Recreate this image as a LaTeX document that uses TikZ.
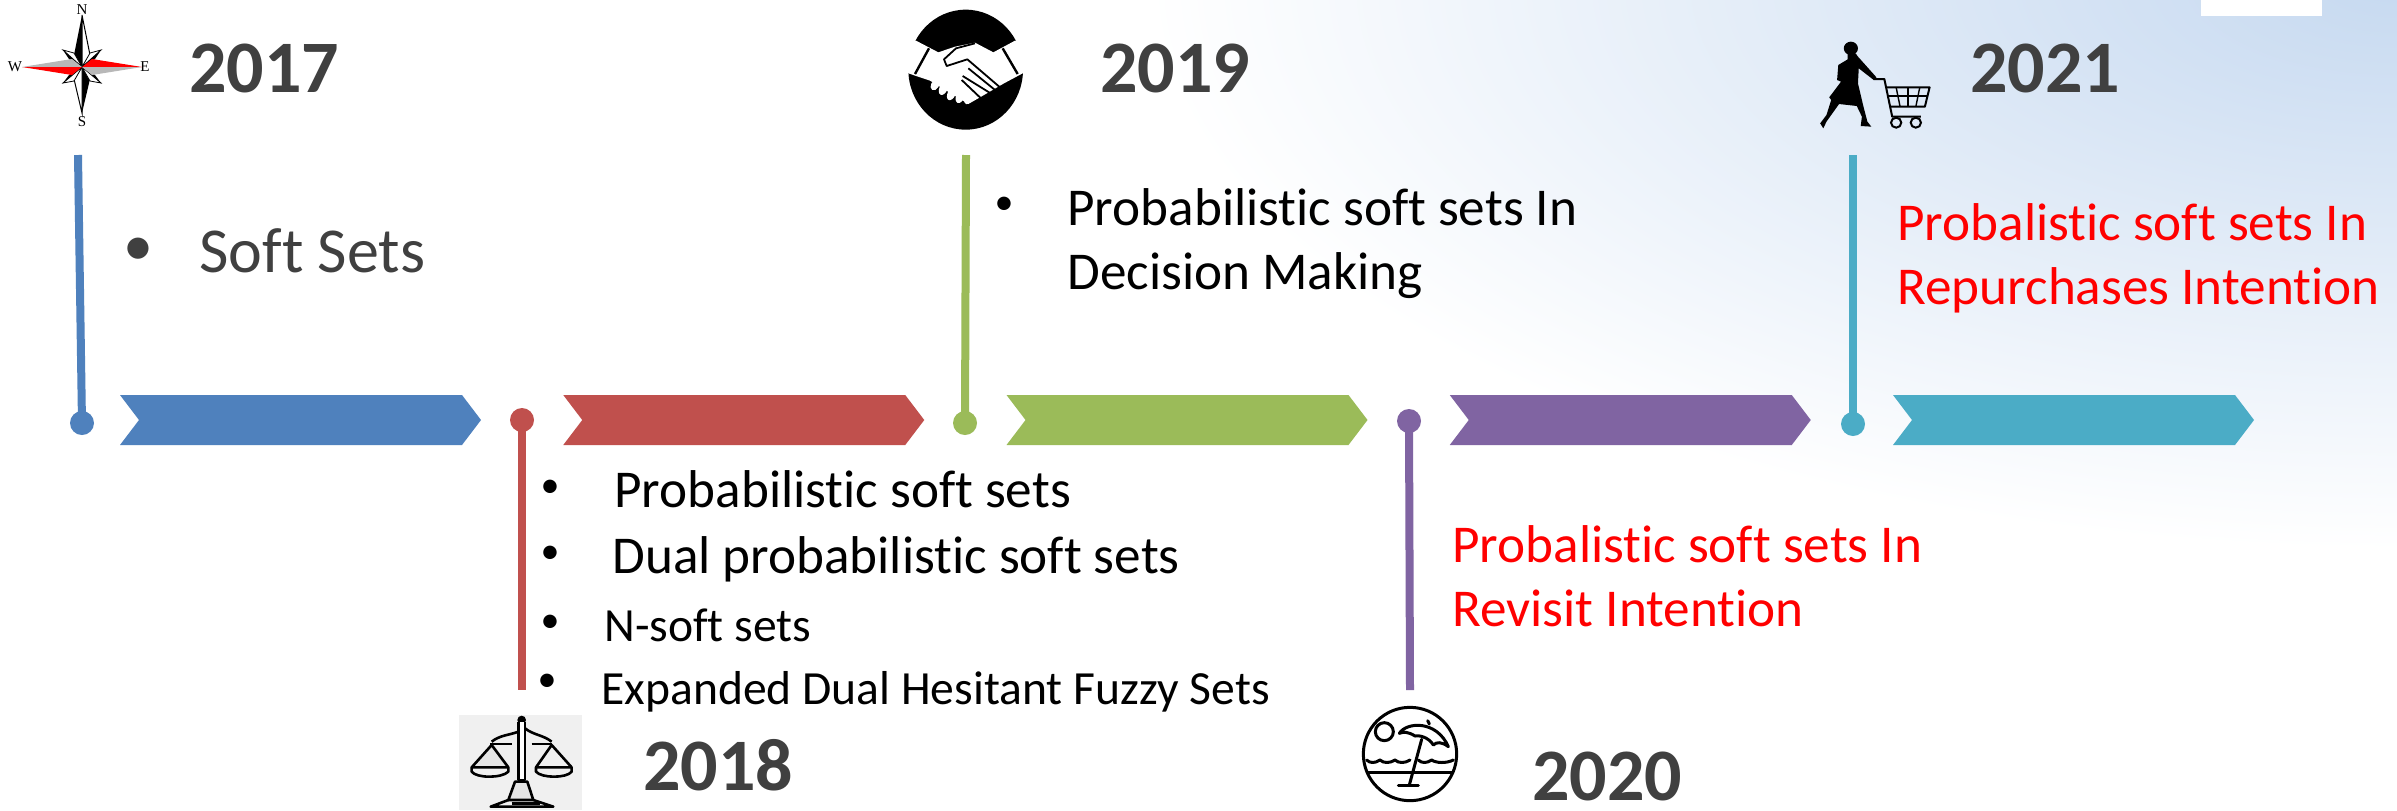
\documentclass[tikz,border=0pt]{standalone}
\usepackage{fontspec}
\setmainfont[Ligatures=NoCommon]{Carlito}
\newfontfamily\compassfont{Liberation Serif}
\usetikzlibrary{calc}

\definecolor{stepblue}{HTML}{4F81BD}
\definecolor{stepred}{HTML}{C0504D}
\definecolor{stepgreen}{HTML}{9BBB59}
\definecolor{steppurple}{HTML}{8064A2}
\definecolor{stepteal}{HTML}{4BACC6}
\definecolor{yeargray}{HTML}{404040}
\definecolor{skyblue}{HTML}{C6D9F0}

\pgfdeclareradialshading{skyglow}{\pgfpoint{0bp}{0bp}}{color(0bp)=(skyblue); color(25bp)=(white); color(50bp)=(white)}

\tikzset{
	year/.style={anchor=base west, text=yeargray, font=\fontsize{37}{37}\selectfont\bfseries, inner sep=0pt},
	big/.style={anchor=base west, inner sep=0pt, font=\fontsize{26.6}{26.6}\selectfont},
	small/.style={anchor=base west, inner sep=0pt, font=\fontsize{23.8}{23.8}\selectfont},
	redtext/.style={big, text=red},
	bul/.style={inner sep=0pt, font=\fontsize{19}{19}\selectfont},
	dot/.style={circle, minimum size=12pt, inner sep=0pt},
	stem/.style={line width=4pt},
	letter/.style={inner sep=0pt, font=\fontsize{7.5}{7.5}\selectfont\compassfont}
}

\begin{document}
\begin{tikzpicture}[x=0.5pt,y=-0.5pt]
			\useasboundingbox (0,0) rectangle (2397,810);

			\begin{scope}
				\clip (0,0) rectangle (2397,810);
				\fill[white] (0,0) rectangle (2397,810);
				\shade[shading=skyglow] (2397,-20) ellipse (1250 and 570);
				\fill[white] (2201,0) rectangle (2322,16);
			\end{scope}

			% arrows of the time line
			\foreach \x/\col in {120/stepblue,563.25/stepred,1006.5/stepgreen,1449.75/steppurple,1893/stepteal}
			{
				\fill[\col] (\x,395) -- ++(342,0) -- ++(19,25) -- ++(-19,25) -- ++(-342,0) -- ++(19,-25) -- cycle;
			}

			\coordinate (top a) at (78,155);
			\coordinate (bottom b) at (522,690);
			\coordinate (top c) at (966,155);
			\coordinate (bottom d) at (1410,690);
			\coordinate (top e) at (1853,155);

			\node[dot, fill=stepblue] (dot a) at (82,423) {};
			\node[dot, fill=stepred] (dot b) at (522,420) {};
			\node[dot, fill=stepgreen] (dot c) at (965,423) {};
			\node[dot, fill=steppurple] (dot d) at (1409,421) {};
			\node[dot, fill=stepteal] (dot e) at (1853,424) {};

			\draw[stem, stepblue] (top a) -- (dot a.center);
			\draw[stem, stepred] (dot b.center) -- (bottom b);
			\draw[stem, stepgreen] (top c) -- (dot c.center);
			\draw[stem, steppurple] (dot d.center) -- (bottom d);
			\draw[stem, stepteal] (top e) -- (dot e.center);

			\node[year] (year a) at (189,92) {2017};
			\node[year] (year b) at (643,790) {2018};
			\node[year] (year c) at (1100,92) {2019};
			\node[year] (year d) at (1532,800) {2020};
			\node[year] (year e) at (1970,92) {2021};

			\node[bul, text=yeargray, font=\fontsize{30}{30}\selectfont] (bul a) at (138,252) {\textbullet};
			\node[big, text=yeargray, font=\fontsize{32}{32}\selectfont] (soft) at (199,272) {Soft Sets};

			\node[bul] (bul c) at (1004,206) {\textbullet};
			\node[big] (line c one) at (1067,225) {Probabilistic soft sets In};
			\node[big] (line c two) at (1067,289) {Decision Making};

			\node[bul] (bul b one) at (550,489) {\textbullet};
			\node[bul] (bul b two) at (550,555) {\textbullet};
			\node[bul] (bul b three) at (550,624) {\textbullet};
			\node[bul] (bul b four) at (547,683) {\textbullet};
			\node[big] (line b one) at (614,507) {Probabilistic soft sets};
			\node[big] (line b two) at (612,573) {Dual probabilistic soft sets};
			\node[small] (line b three) at (604,641) {N-soft sets};
			\node[small] (line b four) at (601,704) {Expanded Dual Hesitant Fuzzy Sets};

			\node[redtext] (line d one) at (1452,562) {Probalistic soft sets In};
			\node[redtext] (line d two) at (1452,626) {Revisit Intention};
			\node[redtext] (line e one) at (1897,240) {Probalistic soft sets In};
			\node[redtext] (line e two) at (1897,304) {Repurchases Intention};

			% compass
			\begin{scope}
				\fill[black] (82,15) -- (74,55) -- (82,67) -- cycle;
				\draw[line width=0.5pt, fill=white] (82,15) -- (90,55) -- (82,67) -- cycle;
				\fill[black] (82,113) -- (90,79) -- (82,67) -- cycle;
				\draw[line width=0.5pt, fill=white] (82,113) -- (74,79) -- (82,67) -- cycle;
				\foreach \tx/\ty/\ax/\ay/\bx/\by in {63/50/74/53/69/59,101/50/90/53/95/59,63/83/74/81/69/75,101/83/90/81/95/75}
				{
					\draw[line width=0.4pt, fill=white] (\tx,\ty) -- (\ax,\ay) -- (82,67) -- cycle;
					\fill[black] (\tx,\ty) -- (\bx,\by) -- (82,67) -- cycle;
				}
				\fill[black!28] (22,67) -- (72,59) -- (82,67) -- cycle;
				\fill[red] (22,67) -- (72,75) -- (82,67) -- cycle;
				\fill[red] (142,67) -- (92,59) -- (82,67) -- cycle;
				\fill[black!28] (142,67) -- (92,75) -- (82,67) -- cycle;
				\node[letter] (north) at (82,10) {N};
				\node[letter] (south) at (82,122) {S};
				\node[letter] (west) at (15,67) {W};
				\node[letter] (east) at (145,67) {E};
			\end{scope}

			% handshake
			\begin{scope}[shift={(880,0)},scale=1/3]
				\fill[black] (257,209) ellipse (172 and 180);
				\fill[white] (75,122) -- (108,122) -- (175,157) -- (225,140) -- (285,128) -- (340,157) -- (405,122) -- (440,122) -- (440,220) -- (428,220) -- (372,250) -- (300,292) -- (265,312) -- (150,242) -- (85,220) -- (75,220) -- cycle;
				\draw[line width=1.2pt] (147,145) -- (105,222);
				\draw[line width=1.2pt] (368,145) -- (413,222);
				\fill[white, rotate around={-30:(165,255)}] (165,255) ellipse (12 and 17);
				\fill[white, rotate around={-25:(190,266)}] (190,266) ellipse (12 and 20);
				\fill[white, rotate around={-25:(215,280)}] (215,280) ellipse (12 and 22);
				\fill[white, rotate around={-20:(240,290)}] (240,290) ellipse (12 and 20);
				\fill[white, rotate around={-20:(262,302)}] (262,302) ellipse (9 and 11);
				\draw[line width=0.9pt, line join=round] (285,130) -- (228,145) -- (192,178) -- (200,198) -- (262,178) -- (360,262) -- (350,274) -- (265,205);
				\draw[line width=0.9pt] (340,285) -- (248,228);
				\draw[line width=0.9pt] (305,297) -- (245,240);
			\end{scope}

			% shopper with cart
			\begin{scope}[shift={(1780,0)},xscale=1/2.54,yscale=1/3]
				\fill[black] (180,145) ellipse (18 and 20);
				\fill[black] (172,160) -- (192,160) -- (198,170) -- (245,232) -- (238,240) -- (200,205) -- (198,250) -- (212,320) -- (222,365) -- (232,380) -- (205,378) -- (208,350) -- (195,318) -- (150,312) -- (118,365) -- (110,385) -- (102,370) -- (118,345) -- (130,300) -- (125,292) -- (155,245) -- (145,240) -- (148,195) -- (172,178) -- cycle;
				\draw[line width=1pt, line join=round] (238,237) -- (265,237) -- (285,350) -- (358,350);
				\draw[line width=1pt, line join=round] (270,262) -- (380,262) -- (368,320) -- (280,320);
				\draw[line width=0.7pt] (275,288) -- (375,288);
				\draw[line width=0.7pt] (295,262) -- (305,320);
				\draw[line width=0.7pt] (325,262) -- (325,320);
				\draw[line width=0.7pt] (355,262) -- (345,320);
				\draw[line width=1pt] (295,368) ellipse (13 and 15);
				\draw[line width=1pt] (345,368) ellipse (13 and 15);
			\end{scope}

			% scales
			\begin{scope}[shift={(440,680)},scale=1/3]
				\fill[black!6] (58,105) rectangle (425,390);
				\fill[black] (245,120) circle (13);
				\begin{scope}[line width=1.3pt, line join=round]
					\draw[fill=white] (235,125) -- (235,300) -- (255,300) -- (255,125);
					\draw (155,185) .. controls (180,165) and (210,165) .. (235,155);
					\draw (335,185) .. controls (310,165) and (280,165) .. (255,145);
					\draw (150,192) -- (215,192);
					\draw (275,192) -- (335,192);
					\draw[fill=black!10] (155,195) -- (95,262) -- (205,262) -- cycle;
					\draw (335,195) -- (288,262) -- (395,262) -- cycle;
					\draw (95,262) -- (95,275) .. controls (110,295) and (185,295) .. (205,275) -- (205,262);
					\draw (288,262) -- (288,275) .. controls (305,295) and (380,295) .. (395,275) -- (395,262);
					\draw[fill=black!10] (225,305) -- (262,305) -- (280,360) -- (205,360) -- cycle;
					\draw (205,360) -- (152,380) -- (340,380) -- (280,360);
					\draw (215,370) -- (300,370);
				\end{scope}
			\end{scope}

			% beach
			\begin{scope}[shift={(1340,680)},scale=1/3]
				\begin{scope}[line width=1.5pt, line join=round, line cap=round]
					\draw (210,222) circle (140);
					\draw (133,155) circle (27);
					\draw (178,160) .. controls (200,125) and (290,120) .. (325,200) .. controls (305,185) and (290,185) .. (280,195) .. controls (265,170) and (235,165) .. (225,168) .. controls (205,155) and (190,155) .. (178,160) -- cycle;
					\draw (263,122) -- (268,132);
					\draw (245,178) -- (208,315);
					\draw (175,315) -- (235,315);
					\draw (80,240) .. controls (90,250) and (105,250) .. (120,240) .. controls (130,250) and (150,250) .. (165,240) .. controls (175,250) and (195,250) .. (210,240);
					\draw (235,240) .. controls (245,250) and (260,250) .. (275,240) .. controls (290,250) and (320,250) .. (340,240);
					\draw (82,278) -- (338,278);
				\end{scope}
			\end{scope}
		\end{tikzpicture}
\end{document}
